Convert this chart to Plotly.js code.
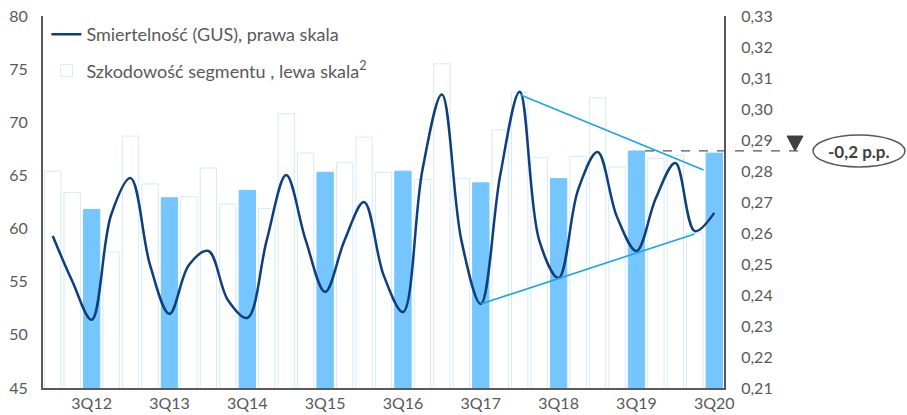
<!DOCTYPE html>
<html>
<head>
<meta charset="utf-8">
<script src="https://cdn.plot.ly/plotly-3.0.1.min.js"></script>
<style>html,body{margin:0;padding:0;background:#fff;}#chart{width:907px;height:415px;}</style>
</head>
<body>
<div id="chart"></div>
<script>
// Categories (quarters 1Q12 .. 3Q20)
const quarters = [];
for (let y = 12; y <= 20; y++) { for (let q = 1; q <= 4; q++) { if (y === 20 && q > 3) break; quarters.push(q + 'Q' + y); } }

// Szkodowość segmentu (left axis)
const lossRatio = [65.4, 63.4, 61.8, 57.8, 68.7, 64.2, 62.9, 63.0, 65.7, 62.3, 63.6, 61.9,
                   70.8, 67.1, 65.3, 66.2, 68.6, 65.3, 65.4, 64.6, 75.5, 64.7, 64.3, 69.3,
                   72.8, 66.7, 64.7, 66.8, 72.3, 65.8, 67.3, 66.6, 66.9, 59.6, 67.1];

// Śmiertelność GUS (right axis)
const mortality = [0.259, 0.2445, 0.232, 0.2658, 0.2777, 0.2497, 0.2339, 0.2497, 0.2542, 0.2384, 0.2326, 0.2577,
                   0.2787, 0.2577, 0.241, 0.2577, 0.270, 0.2465, 0.2345, 0.2803, 0.3047, 0.2577, 0.2371, 0.2787,
                   0.3056, 0.2577, 0.2455, 0.2739, 0.2861, 0.2652, 0.2542, 0.2713, 0.2826, 0.2606, 0.2665];

// Trend lines (right axis), endpoints as category positions
const trendUpX = [24.05, 33.45], trendUpY = [0.3045, 0.2803];
const trendLowX = [22.0, 32.99], trendLowY = [0.2371, 0.2597];

const tickLabels = quarters.filter(q => q.startsWith('3Q'));
const refLevel = 0.2865;
const changeLabel = '-0,2 p.p.';

const barColors = quarters.map(q => q.startsWith('3Q') ? '#75c6fe' : '#ffffff');
const barLineColors = quarters.map(q => q.startsWith('3Q') ? '#75c6fe' : '#d3ebfb');

const gray = '#595959';

const traces = [
  {
    type: 'scatter', mode: 'lines', x: quarters, y: mortality, yaxis: 'y2',
    name: 'Smiertelność (GUS), prawa skala', legendgroup: 'a',
    line: {color: '#0f3e7c', width: 2.5, shape: 'spline', smoothing: 1},
    hoverinfo: 'x+y'
  },
  {
    type: 'bar', x: quarters, y: lossRatio, yaxis: 'y',
    name: 'Szkodowość segmentu , lewa skala<sup>2</sup>', legendgroup: 'b',
    width: 0.84,
    marker: {color: barColors, line: {color: barLineColors, width: 1}}
  },
  {
    type: 'scatter', mode: 'lines', x: trendUpX, y: trendUpY, xaxis: 'x2', yaxis: 'y3',
    line: {color: '#1ba6e0', width: 1.6}, showlegend: false, hoverinfo: 'skip'
  },
  {
    type: 'scatter', mode: 'lines', x: trendLowX, y: trendLowY, xaxis: 'x2', yaxis: 'y3',
    line: {color: '#1ba6e0', width: 1.6}, showlegend: false, hoverinfo: 'skip'
  }
];

const pw = 681, ph = 372;
const px = v => (v - 43) / pw;
const py = v => (388 - v) / ph;

const layout = {
  width: 907, height: 415,
  margin: {l: 43, r: 183, t: 16, b: 27, pad: 0},
  paper_bgcolor: '#ffffff', plot_bgcolor: '#ffffff',
  separators: ',.',
  font: {family: 'Lato, "Open Sans", sans-serif', size: 16, color: gray},
  showlegend: true,
  legend: {x: 0.005, y: 1.0, xanchor: 'left', yanchor: 'top', bgcolor: 'rgba(0,0,0,0)',
           font: {size: 18, color: gray}, traceorder: 'grouped', tracegroupgap: 10},
  bargap: 0.16,
  xaxis: {
    type: 'category', categoryorder: 'array', categoryarray: quarters,
    tickmode: 'array', tickvals: tickLabels, ticktext: tickLabels,
    showgrid: false, zeroline: false, showline: true, linecolor: gray, linewidth: 2,
    ticks: '', tickfont: {size: 16, color: gray}, range: [-0.5, quarters.length - 0.5]
  },
  xaxis2: {overlaying: 'x', range: [-0.5, quarters.length - 0.5], visible: false},
  yaxis: {
    range: [45, 80], tickvals: [45, 50, 55, 60, 65, 70, 75, 80],
    showgrid: false, zeroline: false, showline: true, linecolor: gray, linewidth: 2,
    ticks: '', tickfont: {size: 16, color: gray}, ticklabelstandoff: 10
  },
  yaxis2: {
    range: [0.21, 0.33], overlaying: 'y', side: 'right',
    tickvals: [0.21, 0.22, 0.23, 0.24, 0.25, 0.26, 0.27, 0.28, 0.29, 0.30, 0.31, 0.32, 0.33],
    tickformat: '.2f',
    showgrid: false, zeroline: false, showline: true, linecolor: gray, linewidth: 2,
    ticks: '', tickfont: {size: 16, color: gray}, ticklabelstandoff: 12
  },
  yaxis3: {range: [0.21, 0.33], overlaying: 'y', visible: false},
  shapes: [
    {type: 'line', xref: 'paper', yref: 'y2', x0: px(645), x1: px(802), y0: refLevel, y1: refLevel,
     line: {color: '#555555', width: 1.2, dash: 'dash'}},
    {type: 'path', xref: 'paper', yref: 'paper',
     path: 'M ' + px(787) + ' ' + py(136) + ' L ' + px(803) + ' ' + py(136) + ' L ' + px(795) + ' ' + py(151) + ' Z',
     fillcolor: '#404040', line: {color: '#404040', width: 1}},
    {type: 'circle', xref: 'paper', yref: 'paper', x0: px(813), x1: px(905), y0: py(167), y1: py(135),
     line: {color: gray, width: 1.5}, fillcolor: 'rgba(0,0,0,0)'}
  ],
  annotations: [
    {xref: 'paper', yref: 'paper', x: px(859), y: py(151), text: '<b>' + changeLabel + '</b>',
     showarrow: false, font: {size: 17, color: '#404040'}, xanchor: 'center', yanchor: 'middle'}
  ]
};

Plotly.newPlot('chart', traces, layout, {displayModeBar: false, staticPlot: true});
</script>
</body>
</html>
